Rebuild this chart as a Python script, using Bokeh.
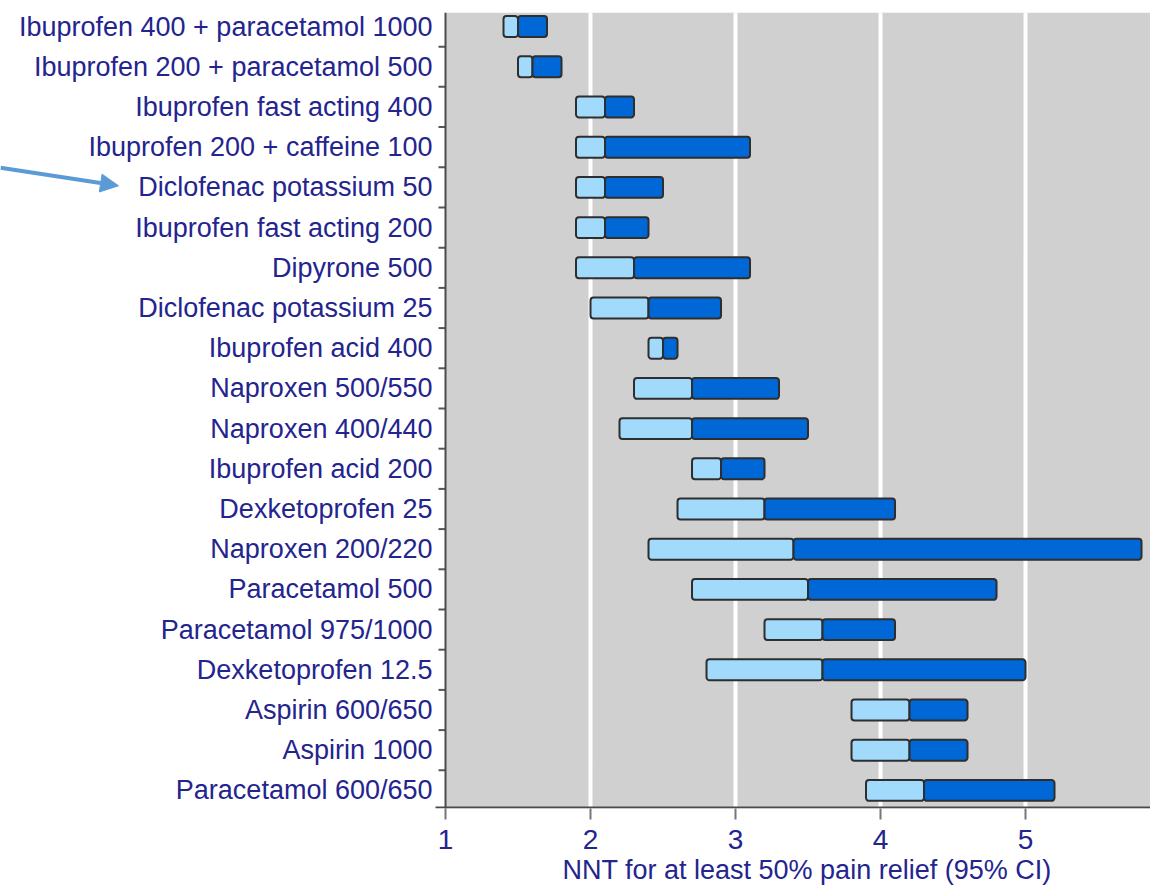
from bokeh.plotting import figure
from bokeh.models import Range1d, FixedTicker, Arrow, NormalHead, ColumnDataSource, BoxAnnotation, Span, Title
from bokeh.core.properties import value
from bokeh.embed import file_html
from bokeh.resources import INLINE

drugs = [
    "Ibuprofen 400 + paracetamol 1000",
    "Ibuprofen 200 + paracetamol 500",
    "Ibuprofen fast acting 400",
    "Ibuprofen 200 + caffeine 100",
    "Diclofenac potassium 50",
    "Ibuprofen fast acting 200",
    "Dipyrone 500",
    "Diclofenac potassium 25",
    "Ibuprofen acid 400",
    "Naproxen 500/550",
    "Naproxen 400/440",
    "Ibuprofen acid 200",
    "Dexketoprofen 25",
    "Naproxen 200/220",
    "Paracetamol 500",
    "Paracetamol 975/1000",
    "Dexketoprofen 12.5",
    "Aspirin 600/650",
    "Aspirin 1000",
    "Paracetamol 600/650",
]
ci_low = [1.4, 1.5, 1.9, 1.9, 1.9, 1.9, 1.9, 2.0, 2.4, 2.3, 2.2, 2.7, 2.6, 2.4, 2.7, 3.2, 2.8, 3.8, 3.8, 3.9]
nnt = [1.5, 1.6, 2.1, 2.1, 2.1, 2.1, 2.3, 2.4, 2.5, 2.7, 2.7, 2.9, 3.2, 3.4, 3.5, 3.6, 3.6, 4.2, 4.2, 4.3]
ci_high = [1.7, 1.8, 2.3, 3.1, 2.5, 2.4, 3.1, 2.9, 2.6, 3.3, 3.5, 3.2, 4.1, 5.8, 4.8, 4.1, 5.0, 4.6, 4.6, 5.2]
x_ticks = [1, 2, 3, 4, 5]
grid_ticks = [2, 3, 4, 5]
x_title = "NNT for at least 50% pain relief (95% CI)"
arrow_target = "Diclofenac potassium 50"

rows = list(range(len(drugs)))
axis_x = [x_ticks[0]] * len(drugs)
src = ColumnDataSource(dict(y=rows, lo=ci_low, mid=nnt, hi=ci_high, ax=axis_x, name=drugs))

LABEL = "#24248f"
FONT = "Liberation Sans"

W, H = 1150, 887
B_TOP, B_BOTTOM = 12, 79
X_START, X_END = -2.069, 5.862
Y_TOP, Y_BOTTOM = -0.35, 19.45
px_x = W / (X_END - X_START)
px_y = (H - B_TOP - B_BOTTOM) / (Y_BOTTOM - Y_TOP)

p = figure(width=W, height=H, output_backend="svg", toolbar_location=None,
           x_range=Range1d(X_START, X_END), y_range=Range1d(Y_BOTTOM, Y_TOP),
           y_axis_location=None,
           min_border_left=0, min_border_right=0, min_border_top=B_TOP, min_border_bottom=B_BOTTOM)
p.background_fill_color = "white"
p.border_fill_color = "white"
p.outline_line_color = None

# plotting area (gray panel starting at the first tick)
panel = BoxAnnotation(left=x_ticks[0], fill_color="#d0d0d0", fill_alpha=1.0,
                      line_color=None, level="image")
p.add_layout(panel)

# grid
p.ygrid.visible = False
p.xgrid.ticker = FixedTicker(ticks=grid_ticks)
p.xgrid.grid_line_color = "white"
p.xgrid.grid_line_width = 4
p.xgrid.level = "underlay"

p.hbar(y="y", left="lo", right="mid", height=0.52, source=src,
       fill_color="#a2dafb", line_color="#2e2e2e", line_width=2, border_radius=3)
p.hbar(y="y", left="mid", right="hi", height=0.52, source=src,
       fill_color="#0067d6", line_color="#2e2e2e", line_width=2, border_radius=3)

# category labels (left axis)
p.text(x="ax", y="y", text="name", source=src, x_offset=-13,
       text_align="right", text_baseline="middle",
       text_font=value(FONT), text_font_size="27px", text_color=LABEL)

# left axis line and its ticks between categories
p.add_layout(Span(location=x_ticks[0], dimension="height", line_color="#4a4a4a", line_width=2))
bounds = [r + 0.5 for r in rows[:-1]]
p.segment(x0=[x_ticks[0]] * len(bounds), x1=[x_ticks[0] - 7 / px_x] * len(bounds),
          y0=bounds, y1=bounds, line_color="#555555", line_width=2)

# bottom axis line
p.segment(x0=[x_ticks[0] - 10 / px_x], x1=[X_END], y0=[Y_BOTTOM - 1 / px_y], y1=[Y_BOTTOM - 1 / px_y],
          line_color="#4a4a4a", line_width=2)

# x axis
xax = p.xaxis[0]
xax.ticker = FixedTicker(ticks=x_ticks)
xax.minor_tick_line_color = None
xax.major_tick_out = 11
xax.major_tick_in = 0
xax.major_tick_line_color = "#777777"
xax.major_tick_line_width = 2
xax.axis_line_color = None
xax.major_label_text_font = FONT
xax.major_label_text_font_size = "28px"
xax.major_label_text_color = LABEL
xax.major_label_standoff = 10

# axis title centred under the gray panel
title_x = 562
p.add_layout(Title(text=x_title, align="left", offset=title_x, standoff=2,
                   text_font=FONT, text_font_size="27px", text_font_style="normal",
                   text_color=LABEL), "below")

# annotation arrow pointing at one category label
target = drugs.index(arrow_target)
arrow = Arrow(x_start=X_START, y_start=target - 0.49, x_end=x_ticks[0] - 327 / px_x, y_end=target - 0.04,
              line_color="#5b9bd5", line_width=4,
              end=NormalHead(size=18, fill_color="#5b9bd5", line_color="#5b9bd5", line_width=1))
p.add_layout(arrow)

open("out.html", "w").write(file_html(p, INLINE))
